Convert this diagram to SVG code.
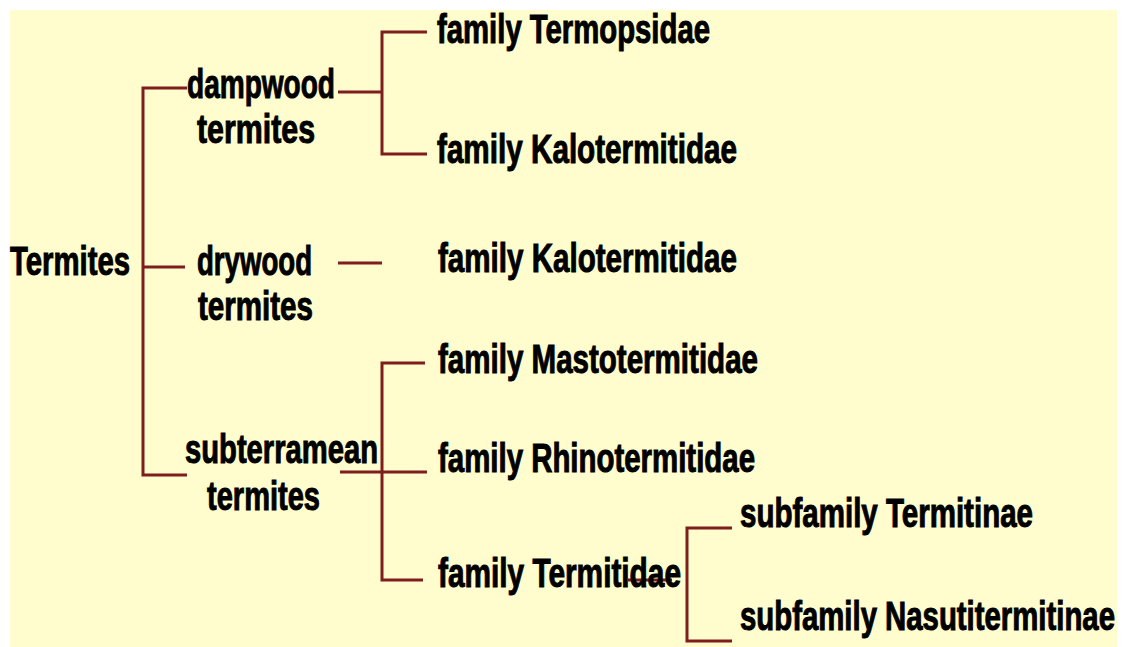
<svg xmlns="http://www.w3.org/2000/svg" width="1124" height="647" viewBox="0 0 1124 647">
<style>
.t{font-family:"Liberation Sans",Arial,sans-serif;font-weight:bold;font-size:28px;fill:#000;stroke:#000;stroke-width:0.7;}
.c{stroke:#7f1d1d;stroke-width:3;fill:none;}
</style>
<rect x="0" y="0" width="1124" height="647" fill="#fff"/>
<rect x="10" y="10" width="1107" height="637" fill="#fffdcd"/>
<g id="connectors" class="c">
<path d="M187,88 H143 V475 H187 M143,267 H185"/>
<path d="M338,92 H382 M427,32 H382 V154 H427"/>
<path d="M338,263 H382"/>
<path d="M425,363 H382 V580 H423 M340,472 H427"/>
<path d="M628,580 H672 M732,528 H687 V641 H732"/>
</g>
<g id="n-termites"><text class="t" transform="translate(10,275) scale(1,1.45)" textLength="120" lengthAdjust="spacingAndGlyphs">Termites</text></g>
<g id="n-dampwood"><text class="t" transform="translate(187,98) scale(1,1.45)" textLength="148" lengthAdjust="spacingAndGlyphs">dampwood</text><text class="t" transform="translate(197,143) scale(1,1.45)" textLength="118" lengthAdjust="spacingAndGlyphs">termites</text></g>
<g id="n-drywood"><text class="t" transform="translate(197,275) scale(1,1.45)" textLength="115" lengthAdjust="spacingAndGlyphs">drywood</text><text class="t" transform="translate(198,320) scale(1,1.45)" textLength="115" lengthAdjust="spacingAndGlyphs">termites</text></g>
<g id="n-subterranean"><text class="t" transform="translate(185,463) scale(1,1.45)" textLength="193" lengthAdjust="spacingAndGlyphs">subterramean</text><text class="t" transform="translate(207,510) scale(1,1.45)" textLength="113" lengthAdjust="spacingAndGlyphs">termites</text></g>
<g id="n-termopsidae"><text class="t" transform="translate(437,43) scale(1,1.45)" textLength="273" lengthAdjust="spacingAndGlyphs">family Termopsidae</text></g>
<g id="n-kalo1"><text class="t" transform="translate(437,163) scale(1,1.45)" textLength="300" lengthAdjust="spacingAndGlyphs">family Kalotermitidae</text></g>
<g id="n-kalo2"><text class="t" transform="translate(438,272) scale(1,1.45)" textLength="299" lengthAdjust="spacingAndGlyphs">family Kalotermitidae</text></g>
<g id="n-masto"><text class="t" transform="translate(438,373) scale(1,1.45)" textLength="320" lengthAdjust="spacingAndGlyphs">family Mastotermitidae</text></g>
<g id="n-rhino"><text class="t" transform="translate(438,472) scale(1,1.45)" textLength="317" lengthAdjust="spacingAndGlyphs">family Rhinotermitidae</text></g>
<g id="n-termitidae"><text class="t" transform="translate(438,587) scale(1,1.45)" textLength="243" lengthAdjust="spacingAndGlyphs">family Termitidae</text></g>
<g id="n-termitinae"><text class="t" transform="translate(740,527) scale(1,1.45)" textLength="293" lengthAdjust="spacingAndGlyphs">subfamily Termitinae</text></g>
<g id="n-nasuti"><text class="t" transform="translate(740,630) scale(1,1.45)" textLength="375" lengthAdjust="spacingAndGlyphs">subfamily Nasutitermitinae</text></g>
</svg>
